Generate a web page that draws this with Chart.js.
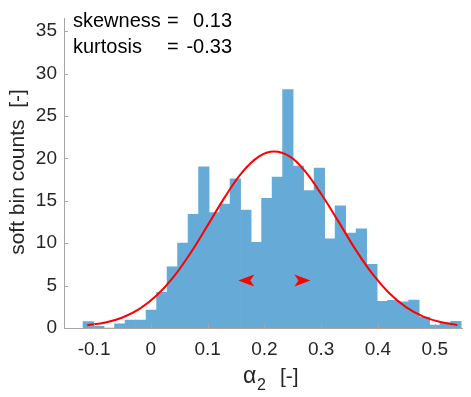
<!DOCTYPE html>
<html>
<head>
<meta charset="utf-8">
<script src="https://cdn.jsdelivr.net/npm/chart.js@4"></script>
<style>
  body { margin: 0; background: #fff; }
  canvas { display: block; }
</style>
</head>
<body>
<canvas id="myChart" width="471" height="397"></canvas>
<script>
// histogram bins (centres) and soft counts
const binCenters = [-0.1102, -0.0917, -0.0732, -0.0547, -0.0362, -0.0177, 0.0008, 0.0193, 0.0378, 0.0563,
  0.0748, 0.0933, 0.1118, 0.1303, 0.1488, 0.1673, 0.1858, 0.2043, 0.2228, 0.2413,
  0.2598, 0.2783, 0.2968, 0.3153, 0.3338, 0.3523, 0.3708, 0.3893, 0.4078, 0.4263,
  0.4448, 0.4633, 0.4818, 0.5003, 0.5188, 0.5373];
const binCounts = [0.75, 0.2, 0, 0.5, 0.92, 0.92, 2.1, 4.2, 7.2, 10.0,
  13.4, 19.0, 13.6, 14.6, 17.6, 13.9, 10.1, 15.3, 17.8, 28.1,
  19.1, 16.2, 18.85, 10.5, 14.4, 11.2, 11.7, 7.5, 3.15, 3.25,
  3.1, 3.3, 1.3, 0.35, 0.6, 0.78];

// fitted curve
const fitX = [-0.112, -0.08, -0.05, -0.02, 0.01, 0.04, 0.07, 0.10, 0.13, 0.16, 0.19, 0.217,
  0.245, 0.27, 0.30, 0.33, 0.36, 0.39, 0.42, 0.45, 0.48, 0.51, 0.54];
const fitY = [0.33, 0.64, 1.24, 2.26, 3.83, 6.03, 8.86, 12.1, 15.4, 18.3, 20.2, 20.8,
  20.2, 18.6, 15.8, 12.6, 9.3, 6.4, 4.1, 2.44, 1.35, 0.70, 0.34];

// arrow tips (x) and height
const arrowTipX = [0.154, 0.281];
const arrowDir = [-1, 1];
const arrowY = 5.6;

const xTicks = [-0.1, 0, 0.1, 0.2, 0.3, 0.4, 0.5];
const xTickLabels = ['-0.1', '0', '0.1', '0.2', '0.3', '0.4', '0.5'];
const yTicks = [0, 5, 10, 15, 20, 25, 30, 35];

const stats = [['skewness', '0.13'], ['kurtosis', '-0.33']];
const yTitle = 'soft bin counts  [-]';

const axisGray = '#a6a6a6';
const textCol = '#262626';
const fontFam = '"Liberation Sans", Arial, sans-serif';

const extras = {
  id: 'extras',
  afterDatasetsDraw(chart) {
    const c = chart.ctx, x = chart.scales.x, y = chart.scales.y;
    // arrowheads
    c.save();
    c.fillStyle = '#ff0000';
    arrowTipX.forEach((v, i) => {
      const px = x.getPixelForValue(v), py = y.getPixelForValue(arrowY);
      const d = -arrowDir[i];
      c.beginPath();
      c.moveTo(px, py);
      c.lineTo(px + d * 16, py - 6);
      c.lineTo(px + d * 12, py);
      c.lineTo(px + d * 16, py + 6);
      c.closePath();
      c.fill();
    });
    c.restore();
  },
  afterDraw(chart) {
    const c = chart.ctx, x = chart.scales.x, y = chart.scales.y;
    const a = chart.chartArea;
    c.save();
    // inward tick marks
    c.strokeStyle = axisGray;
    c.lineWidth = 1;
    c.beginPath();
    yTicks.forEach(v => {
      const py = Math.round(y.getPixelForValue(v)) + 0.5;
      c.moveTo(a.left, py); c.lineTo(a.left + 4, py);
    });
    xTicks.forEach(v => {
      const px = Math.round(x.getPixelForValue(v)) + 0.5;
      c.moveTo(px, a.bottom); c.lineTo(px, a.bottom - 4);
    });
    c.stroke();

    // stats text
    c.fillStyle = '#000';
    c.font = '20px ' + fontFam;
    c.textBaseline = 'alphabetic';
    stats.forEach((s, i) => {
      const by = 27 + i * 26;
      c.textAlign = 'left';
      c.fillText(s[0], 73, by);
      c.fillText('=', 167, by);
      c.textAlign = 'right';
      c.fillText(s[1], 232, by);
    });

    // y axis title
    c.fillStyle = textCol;
    c.save();
    c.translate(18, 172);
    c.rotate(-Math.PI / 2);
    c.textAlign = 'center';
    c.textBaseline = 'middle';
    c.font = '21px ' + fontFam;
    c.fillText(yTitle, 0, 0);
    c.restore();

    // x axis title: alpha with subscript 2
    c.textAlign = 'left';
    c.textBaseline = 'alphabetic';
    c.font = '23px ' + fontFam;
    c.fillText('α', 243, 383);
    c.font = '16px ' + fontFam;
    c.fillText('2', 257, 390);
    c.font = '21px ' + fontFam;
    c.fillText('[-]', 280, 383);
    c.restore();
  }
};

new Chart(document.getElementById('myChart').getContext('2d'), {
  data: {
    datasets: [
      {
        type: 'line',
        data: fitX.map((v, i) => ({ x: v, y: fitY[i] })),
        borderColor: '#ff0000',
        borderWidth: 2,
        pointRadius: 0,
        tension: 0.4,
        fill: false,
        order: 0
      },
      {
        type: 'bar',
        data: binCenters.map((v, i) => ({ x: v, y: binCounts[i] })),
        backgroundColor: 'rgb(102,170,215)',
        borderWidth: 0,
        barPercentage: 1,
        categoryPercentage: 1,
        order: 1
      }
    ]
  },
  options: {
    responsive: false,
    animation: false,
    devicePixelRatio: 1,
    layout: { padding: { top: 5, right: 9, left: 0, bottom: 0 } },
    plugins: { legend: { display: false }, tooltip: { enabled: false } },
    scales: {
      x: {
        type: 'linear',
        offset: false,
        min: -0.153,
        max: 0.548,
        afterBuildTicks: s => { s.ticks = xTicks.map(v => ({ value: v })); },
        afterFit: s => { s.height = 69; },
        grid: { display: false, drawTicks: false, offset: false },
        border: { display: true, color: axisGray },
        ticks: {
          padding: 10,
          color: textCol,
          font: { family: fontFam, size: 19 },
          maxRotation: 0,
          callback: (v) => { const i = xTicks.findIndex(t => Math.abs(t - v) < 1e-9); return i >= 0 ? xTickLabels[i] : ''; }
        }
      },
      y: {
        min: 0,
        max: 36.5,
        afterBuildTicks: s => { s.ticks = yTicks.map(v => ({ value: v })); },
        afterFit: s => { s.width = 64; },
        grid: { display: false, drawTicks: false },
        border: { display: true, color: axisGray },
        ticks: {
          padding: 7,
          color: textCol,
          font: { family: fontFam, size: 19 }
        }
      }
    }
  },
  plugins: [extras]
});
</script>
</body>
</html>
